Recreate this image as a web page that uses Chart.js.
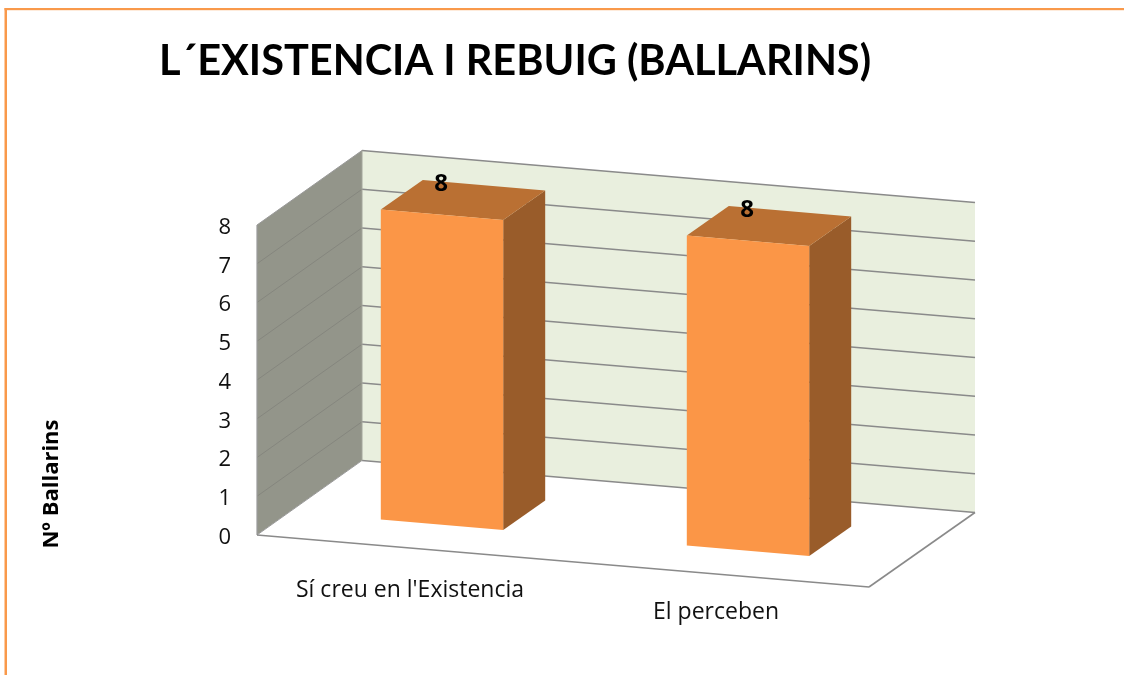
<!DOCTYPE html>
<html><head><meta charset="utf-8">
<style>html,body{margin:0;padding:0;background:#fff}#w{position:relative;width:1124px;height:675px}canvas{display:block}</style>
<script src="https://cdn.jsdelivr.net/npm/chart.js@4"></script>
</head><body><div id="w"><canvas id="c" width="1124" height="675"></canvas></div>
<script>
const categories = ["Sí creu en l'Existencia", "El perceben"];
const values = [8, 8];
const titleText = "L´EXISTENCIA I REBUIG (BALLARINS)";
const yAxisTitle = "Nº Ballarins";
const yMax = 8;

const SLOPE = 0.085, DX = 105, DY = 74.5;        // floor shear and wall depth
const LABEL_SLOPE = 0.075;
const BAR_DX = 32, BAR_DY = 23.3, BD_X = 42, BD_Y = 29.5; // bar position inside the depth, bar depth
const TITLE_FONT = "Lato, sans-serif";
const FONT = "'Open Sans', sans-serif";
const LINE = "#8a8a8a";

function poly(ctx, pts, fill, stroke, lw) {
  ctx.beginPath();
  pts.forEach((p, i) => i ? ctx.lineTo(p[0], p[1]) : ctx.moveTo(p[0], p[1]));
  ctx.closePath();
  if (fill) { ctx.fillStyle = fill; ctx.fill(); }
  if (stroke) { ctx.strokeStyle = stroke; ctx.lineWidth = lw || 1; ctx.stroke(); }
}
function seg(ctx, a, b, col, lw) {
  ctx.beginPath(); ctx.moveTo(a[0], a[1]); ctx.lineTo(b[0], b[1]);
  ctx.strokeStyle = col; ctx.lineWidth = lw; ctx.stroke();
}

const threeD = {
  id: 'threeD',
  beforeDraw(chart) {
    const ctx = chart.ctx;
    ctx.save();
    ctx.fillStyle = '#fff'; ctx.fillRect(0, 0, chart.width, chart.height);
    // outer frame
    ctx.fillStyle = '#F9994B';
    ctx.fillRect(4.5, 8, chart.width, 2.2);
    ctx.fillRect(4.5, 8, 2.5, chart.height);
    // heading
    ctx.fillStyle = '#000';
    ctx.font = "bold 41.5px " + TITLE_FONT;
    ctx.textAlign = 'center'; ctx.textBaseline = 'middle';
    ctx.fillText(titleText, 515, 61.5);
    // axis title
    ctx.save();
    ctx.translate(52, 484); ctx.rotate(-Math.PI / 2);
    ctx.font = "bold 22px " + FONT;
    ctx.fillText(yAxisTitle, 0, 0);
    ctx.restore();
    ctx.restore();
  },
  beforeDatasetsDraw(chart) {
    const ctx = chart.ctx, {left, right} = chart.chartArea, y = chart.scales.y;
    const w = right - left, rise = w * SLOPE;
    const y0 = y.getPixelForValue(0), yT = y.getPixelForValue(yMax);
    ctx.save();
    // back wall
    poly(ctx, [[left + DX, yT - DY], [right + DX + 1, yT - DY + rise], [right + DX + 1, y0 - DY + rise], [left + DX, y0 - DY]], '#E9EFDE');
    // side wall
    poly(ctx, [[left, yT], [left + DX, yT - DY], [left + DX, y0 - DY], [left, y0]], '#93958A');
    // floor
    poly(ctx, [[left, y0], [left + DX, y0 - DY], [right + DX + 1, y0 - DY + rise], [right, y0 + rise]], '#fff');
    // gridlines, from the y scale ticks
    y.ticks.forEach(t => {
      const p = y.getPixelForValue(t.value);
      seg(ctx, [left, p], [left + DX, p - DY], t.value === 0 || t.value === yMax ? '#9a9a9a' : '#85867e', 1);
      seg(ctx, [left + DX, p - DY], [right + DX + 1, p - DY + rise], LINE, 1.6);
    });
    seg(ctx, [left, yT], [left, y0], '#9a9a9a', 1.2);
    seg(ctx, [left + DX, yT - DY], [left + DX, y0 - DY], '#a3a59b', 1);
    // floor front edges
    seg(ctx, [left, y0], [right, y0 + rise], LINE, 1.6);
    seg(ctx, [right, y0 + rise], [right + DX + 1, y0 - DY + rise], LINE, 1.6);
    // bar side and top faces, from the native bar elements
    chart.getDatasetMeta(0).data.forEach(b => {
      const x1 = b.x - b.width / 2 + BAR_DX, x2 = b.x + b.width / 2 + BAR_DX;
      const sh = x => (x - BAR_DX - left) * SLOPE - BAR_DY;
      const tl = [x1, b.y + sh(x1)], tr = [x2, b.y + sh(x2)], br = [x2, b.base + sh(x2)];
      poly(ctx, [tr, [tr[0] + BD_X, tr[1] - BD_Y], [br[0] + BD_X, br[1] - BD_Y], br], '#995C2A');
      poly(ctx, [tl, [tl[0] + BD_X, tl[1] - BD_Y], [tr[0] + BD_X, tr[1] - BD_Y], tr], '#BA7033');
    });
    ctx.restore();
    // shear the native bars onto the sloped front plane
    ctx.save();
    ctx.transform(1, SLOPE, 0, 1, BAR_DX, -BAR_DY - left * SLOPE);
  },
  afterDatasetsDraw(chart) {
    const ctx = chart.ctx, {left} = chart.chartArea, y = chart.scales.y, x = chart.scales.x;
    ctx.restore();
    ctx.save();
    // value labels
    ctx.fillStyle = '#000'; ctx.textAlign = 'center'; ctx.textBaseline = 'middle';
    ctx.font = "bold 24px " + FONT;
    chart.getDatasetMeta(0).data.forEach((b, i) => {
      ctx.fillText(String(values[i]), b.x + 31, b.y + (b.x - left) * SLOPE - 53.5);
    });
    // category labels follow the sloped front edge
    ctx.font = "23px " + FONT;
    ctx.fillStyle = '#111';
    categories.forEach((c, i) => {
      const px = x.getPixelForTick(i);
      ctx.fillText(c, px, y.getPixelForValue(0) + (px - left) * LABEL_SLOPE + 43.5);
    });
    // value axis labels, from the y scale ticks
    ctx.font = "22px " + FONT;
    ctx.textAlign = 'right';
    y.ticks.forEach(t => {
      ctx.fillText(t.label, left - 26, y.getPixelForValue(t.value) + 2.5);
    });
    ctx.restore();
  }
};

new Chart(document.getElementById('c'), {
  type: 'bar',
  data: { labels: categories, datasets: [{
    data: values, backgroundColor: '#FB9647', borderWidth: 0,
    barPercentage: 0.4, categoryPercentage: 1, clip: false
  }]},
  options: {
    responsive: false, animation: false,
    layout: { padding: { left: 197, right: 255, top: 225, bottom: 140 } },
    plugins: { legend: { display: false }, title: { display: false }, tooltip: { enabled: false } },
    scales: {
      x: { afterFit(s) { s.height = 0; }, grid: { display: false }, border: { display: false }, ticks: { display: false } },
      y: {
        min: 0, max: yMax,
        afterFit(s) { s.width = 60; },
        grid: { display: false }, border: { display: false },
        ticks: { stepSize: 1, display: false }
      }
    }
  },
  plugins: [threeD]
});
</script></body></html>
